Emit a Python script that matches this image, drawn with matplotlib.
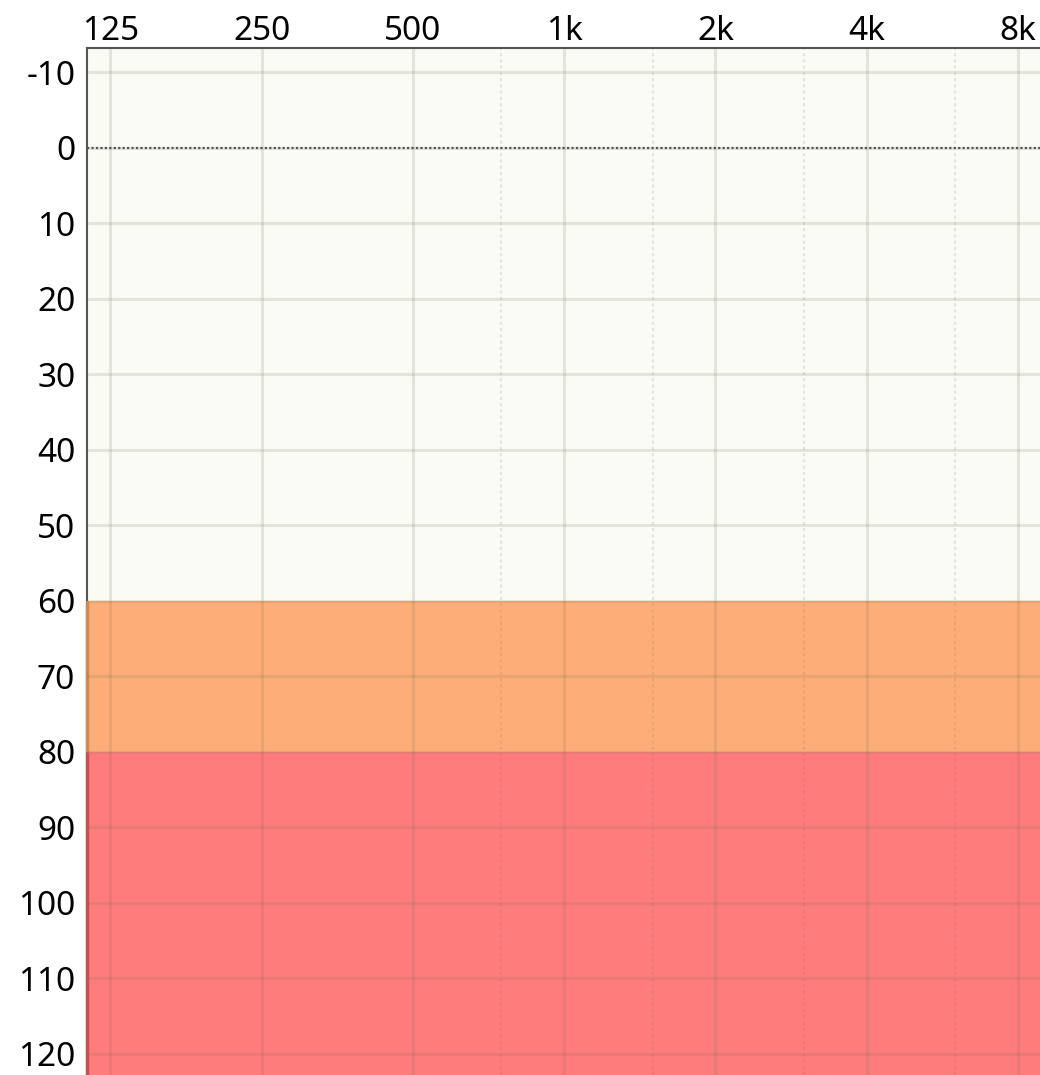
import matplotlib
matplotlib.use("Agg")
import matplotlib.pyplot as plt
from matplotlib.ticker import FixedLocator, NullLocator

# ---- data ----
freqs = [125, 250, 500, 1000, 2000, 4000, 8000]
freq_labels = ["125", "250", "500", "1k", "2k", "4k", "8k"]
mid_freqs = [750, 1500, 3000, 6000]
db_ticks = [-10, 0, 10, 20, 30, 40, 50, 60, 70, 80, 90, 100, 110, 120]
zone_low = [60, 80]
zone_high = [80, 130]
zone_colors = ["#FDAE78", "#FF7C7C"]
zone_edges = ["#D9864A", "#CC4F4F"]

x_lim = (112.3, 8850)
y_lim = (122.8, -13.2)

plt.rcParams['font.family'] = ['Noto Sans', 'DejaVu Sans']

fig = plt.figure(figsize=(10.4, 10.75), dpi=100)
ax = fig.add_axes([87 / 1040, 0.0, 1 - 87 / 1040, 1 - 48 / 1075])
ax.set_facecolor("#FBFBF5")
ax.set_xscale("log")
ax.set_xlim(*x_lim)
ax.set_ylim(*y_lim)

# zones
for lo, hi, c, e in zip(zone_low, zone_high, zone_colors, zone_edges):
    ax.axhspan(lo, hi, facecolor=c, edgecolor="none", zorder=1)
    ax.plot([x_lim[0], x_lim[0]], [lo, hi], color=e, lw=2.5, zorder=1.2,
            solid_capstyle="butt", clip_on=False)

# major grid (semi-transparent, on top of zones)
for f in freqs:
    ax.axvline(f, color="#707060", alpha=0.16, lw=2.2, zorder=2)
for d in db_ticks:
    ax.axhline(d, color="#707060", alpha=0.16, lw=2.2, zorder=2)
# mid-octave dotted lines
for f in mid_freqs:
    ax.axvline(f, color="#707060", alpha=0.16, lw=1.5, ls=(0, (1.5, 1.5)), zorder=2)
# zero reference line
ax.axhline(0, color="#555555", lw=1.6, ls=(0, (1, 1)), zorder=3)

ax.xaxis.set_major_locator(FixedLocator(freqs))
ax.xaxis.set_minor_locator(NullLocator())
ax.set_xticklabels(freq_labels)
ax.yaxis.set_major_locator(FixedLocator(db_ticks))
ax.set_yticklabels([str(d) for d in db_ticks])
ax.xaxis.tick_top()
ax.tick_params(axis="both", length=0, labelsize=24, colors="black")
ax.tick_params(axis="x", pad=0)
ax.tick_params(axis="y", pad=8.5)

for s in ["right", "bottom"]:
    ax.spines[s].set_visible(False)
ax.spines["top"].set_color("#555555")
ax.spines["top"].set_linewidth(1.5)
ax.spines["left"].set_color("#555555")
ax.spines["left"].set_linewidth(1.5)
ax.spines["left"].set_zorder(0.9)

fig.savefig("out.png", dpi=100)
